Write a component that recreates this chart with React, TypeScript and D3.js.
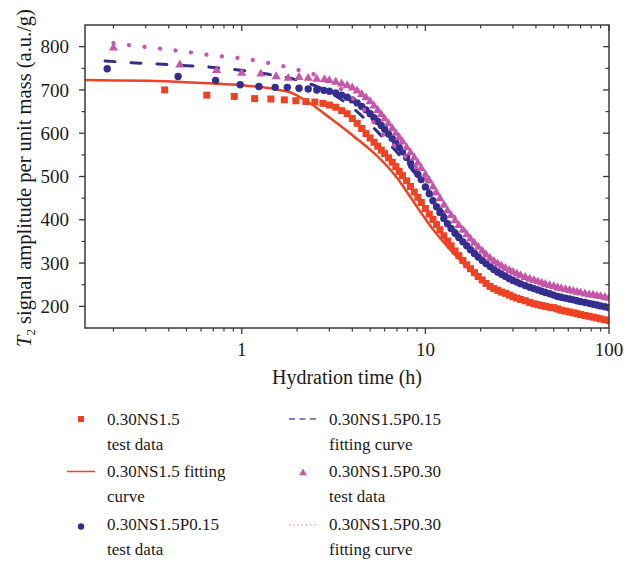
import React from "react";
import * as d3 from "d3";

// ---------- data ----------
const denseHours = [3.0, 3.25, 3.5, 3.75, 4.0, 4.25, 4.5, 4.75, 5.0, 5.25, 5.5, 5.75, 6.0, 6.3, 6.6, 6.9, 7.2, 7.5, 7.9, 8.3, 8.7, 9.1, 9.5, 10, 10.5, 11, 11.5, 12, 12.6, 13.2, 13.8, 14.5, 15.2, 16, 16.8, 17.6, 18.5, 19.4, 20.4, 21.4, 22.5, 23.6, 24.8, 26, 27.3, 28.7, 30, 31.5, 33, 35, 37, 39, 41, 43, 45, 47.5, 50, 52.5, 55, 58, 61, 64, 67, 70, 74, 78, 82, 86, 90, 95, 100];

const ns15Hours = [0.38, 0.645, 0.91, 1.175, 1.44, 1.705, 1.97, 2.235, 2.5, 2.765, ...denseHours];
const ns15Values = [700, 688, 685, 680, 679, 677, 675, 673, 672, 669,
  665, 660, 652, 645, 634, 623, 611, 599, 589, 579, 570, 561, 553, 543, 533, 523, 512, 502, 490, 477, 464, 452, 440, 426, 413, 401, 389, 377, 363, 351, 340, 328, 317, 306, 296, 287, 278, 269, 261, 253, 246, 241, 237, 233, 230, 226, 222, 219, 216, 213, 209, 206, 204, 202, 200, 198, 197, 194, 191, 189, 187, 185, 183, 181, 179, 177, 175, 173, 171, 169, 167];

const p015Hours = [0.185, 0.45, 0.72, 0.98, 1.24, 1.52, 1.77, 2.05, 2.3, 2.56, 2.8, ...denseHours];
const p015Values = [749, 731, 722, 712, 708, 706, 706, 704, 702, 700, 699,
  697, 693, 688, 683, 677, 670, 662, 654, 645, 636, 627, 618, 609, 598, 588, 578, 567, 557, 544, 531, 518, 505, 493, 476, 460, 444, 430, 417, 403, 391, 380, 369, 359, 349, 340, 331, 322, 314, 306, 299, 292, 285, 279, 274, 269, 264, 260, 256, 252, 248, 244, 241, 238, 235, 232, 229, 226, 223, 221, 219, 217, 215, 213, 211, 209, 207, 205, 203, 201, 199, 197];

const p030Hours = [0.2, 0.46, 0.73, 1.0, 1.27, 1.54, 1.79, 2.05, 2.3, 2.56, 2.82, ...denseHours];
const p030Values = [797, 758, 745, 739, 737, 731, 727, 729, 727, 725, 724,
  722, 718, 714, 710, 705, 698, 690, 682, 673, 663, 653, 643, 633, 622, 611, 600, 590, 580, 567, 555, 543, 531, 519, 504, 490, 476, 462, 449, 434, 421, 410, 398, 387, 376, 366, 356, 346, 337, 328, 319, 311, 304, 298, 293, 288, 283, 279, 275, 271, 267, 263, 260, 257, 254, 251, 248, 246, 243, 241, 239, 237, 235, 233, 231, 229, 227, 226, 224, 223, 221, 219];

const ns15FitHours = [0.14, 0.2, 0.3, 0.5, 0.7, 1.0, 1.3, 1.6, 1.85, 2.1, 2.4, 2.9, 3.5, 4.1, 5, 6, 7, 8, 9, 10, 11, 12, 14, 16, 20, 25, 30, 40, 50, 70, 100];
const ns15FitValues = [723, 722, 721, 718, 715, 711, 706, 700, 694, 682, 667, 641, 615, 592, 562, 530, 497, 462, 430, 402, 378, 358, 326, 300, 260, 234, 220, 202, 191, 178, 166];

const p015FitHours = [0.18, 0.25, 0.35, 0.5, 0.7, 1.0, 1.4, 2.0, 2.5, 3.0, 3.5, 4.0, 4.5, 5.0, 6.0, 7.0, 8.0, 9.0, 10, 12, 15, 20, 25, 30, 40, 50, 70, 100];
const p015FitValues = [767, 763, 760, 756, 752, 745, 736, 723, 710, 695, 677, 659, 640, 621, 586, 556, 528, 502, 478, 428, 368, 308, 280, 261, 240, 226, 211, 197];

const p030FitHours = [0.2, 0.25, 0.3, 0.4, 0.5, 0.6, 0.8, 1.0, 1.3, 1.6, 2.0, 2.5, 3.0, 3.5, 4.0, 4.7, 5.7, 7, 8, 10, 12, 15, 20, 25, 30, 40, 50, 70, 100];
const p030FitValues = [808, 803, 799, 793, 788, 783, 777, 773, 765, 757, 747, 735, 720, 701, 681, 651, 603, 565, 540, 495, 450, 396, 330, 299, 281, 259, 246, 231, 219];

const xMajorTicks = [1, 10, 100];
const xMinorTicks = [0.2, 0.3, 0.4, 0.5, 0.6, 0.7, 0.8, 0.9, 2, 3, 4, 5, 6, 7, 8, 9, 20, 30, 40, 50, 60, 70, 80, 90];
const yMajorTicks = [200, 300, 400, 500, 600, 700, 800];
const yMinorTicks = [250, 350, 450, 550, 650, 750];

const legendLabels = [
  ["0.30NS1.5", "test data"],
  ["0.30NS1.5 fitting", "curve"],
  ["0.30NS1.5P0.15", "test data"],
  ["0.30NS1.5P0.15", "fitting curve"],
  ["0.30NS1.5P0.30", "test data"],
  ["0.30NS1.5P0.30", "fitting curve"],
];

// ---------- style ----------
const RED = "#ee4224";
const BLUE = "#342f8e";
const PINK = "#c556a9";
const AXIS = "#3a3a3a";
const FONT = "'Liberation Serif', 'Times New Roman', serif";

const X0 = 85, X1 = 609, Y0 = 25, Y1 = 328;

export default function App() {
  const x = d3.scaleLog().domain([0.14, 100]).range([X0, X1]);
  const y = d3.scaleLinear().domain([150, 850]).range([Y1, Y0]);

  const line = (hs: number[], vs: number[]) =>
    d3.line<number>()
      .x((_, i) => x(hs[i]))
      .y((v) => y(v))
      .curve(d3.curveMonotoneX)(vs) || "";

  const tri = d3.symbol().type(d3.symbolTriangle).size(36)() || "";
  const triSmall = d3.symbol().type(d3.symbolTriangle).size(26)() || "";

  const legendX = [[81, 107], [303, 329]];
  const rowY = [425, 477, 530];

  return (
    <svg width={624} height={565} style={{ display: "block", position: "absolute", left: 0, top: 0 }} fontFamily={FONT}>
      <rect width={624} height={565} fill="#fff" />
      <defs>
        <clipPath id="plotclip">
          <rect x={X0} y={Y0} width={X1 - X0} height={Y1 - Y0} />
        </clipPath>
      </defs>

      <g clipPath="url(#plotclip)">
        {ns15Values.map((v, i) => (
          <rect key={"r" + i} x={x(ns15Hours[i]) - 3.5} y={y(v) - 3.5} width={7} height={7} fill={RED} />
        ))}
        <path d={line(ns15FitHours, ns15FitValues)} fill="none" stroke={RED} strokeWidth={2.5} />
        {p015Values.map((v, i) => (
          <circle key={"b" + i} cx={x(p015Hours[i])} cy={y(v)} r={3.7} fill={BLUE} />
        ))}
        <path d={line(p015FitHours, p015FitValues)} fill="none" stroke={BLUE} strokeWidth={3} strokeDasharray="10 16" strokeLinecap="round" />
        {p030Values.map((v, i) => (
          <path key={"p" + i} d={tri} transform={`translate(${x(p030Hours[i])},${y(v)})`} fill={PINK} />
        ))}
        <path d={line(p030FitHours, p030FitValues)} fill="none" stroke={PINK} strokeWidth={4.2} strokeDasharray="0.1 15.5" strokeLinecap="round" />
      </g>

      {/* frame */}
      <rect x={X0} y={Y0} width={X1 - X0} height={Y1 - Y0} fill="none" stroke={AXIS} strokeWidth={1.5} />

      {/* x ticks */}
      {xMajorTicks.map((t) => (
        <g key={"xm" + t}>
          <line x1={x(t)} x2={x(t)} y1={Y1} y2={Y1 + 6} stroke={AXIS} strokeWidth={1.3} />
          <line x1={x(t)} x2={x(t)} y1={Y0} y2={Y0 + 6} stroke={AXIS} strokeWidth={1.3} />
          <text x={x(t)} y={356} textAnchor="middle" fontSize={19} fill="#1a1a1a">{t}</text>
        </g>
      ))}
      {xMinorTicks.map((t) => (
        <g key={"xn" + t}>
          <line x1={x(t)} x2={x(t)} y1={Y1} y2={Y1 + 3.5} stroke={AXIS} strokeWidth={1.2} />
          <line x1={x(t)} x2={x(t)} y1={Y0} y2={Y0 + 3.5} stroke={AXIS} strokeWidth={1.2} />
        </g>
      ))}
      {/* y ticks */}
      {yMajorTicks.map((t) => (
        <g key={"ym" + t}>
          <line x1={X0 - 6} x2={X0} y1={y(t)} y2={y(t)} stroke={AXIS} strokeWidth={1.3} />
          <line x1={X1 - 6} x2={X1} y1={y(t)} y2={y(t)} stroke={AXIS} strokeWidth={1.3} />
          <text x={69} y={y(t)} dy="0.35em" textAnchor="end" fontSize={19} fill="#1a1a1a">{t}</text>
        </g>
      ))}
      {yMinorTicks.map((t) => (
        <g key={"yn" + t}>
          <line x1={X0 - 3.5} x2={X0} y1={y(t)} y2={y(t)} stroke={AXIS} strokeWidth={1.2} />
          <line x1={X1 - 3.5} x2={X1} y1={y(t)} y2={y(t)} stroke={AXIS} strokeWidth={1.2} />
        </g>
      ))}

      {/* axis titles */}
      <text x={(X0 + X1) / 2} y={384} textAnchor="middle" fontSize={20} fill="#1a1a1a">Hydration time (h)</text>
      <text transform={`translate(31,178) rotate(-90)`} textAnchor="middle" fontSize={20.5} fill="#1a1a1a">
        <tspan fontStyle="italic">T</tspan>
        <tspan fontSize={13} dy={4}>2</tspan>
        <tspan dy={-4}> signal amplitude per unit mass (a.u./g)</tspan>
      </text>

      {/* legend */}
      {legendLabels.map((lab, i) => {
        const col = i < 3 ? 0 : 1;
        const row = i % 3;
        const base = rowY[row];
        const tx = legendX[col][1];
        return (
          <text key={"lt" + i} x={tx} y={base} fontSize={17} fill="#1a1a1a">
            <tspan x={tx}>{lab[0]}</tspan>
            <tspan x={tx} dy={25}>{lab[1]}</tspan>
          </text>
        );
      })}
      <rect x={81 - 3} y={419 - 3} width={6} height={6} fill={RED} />
      <line x1={67} x2={95} y1={471.5} y2={471.5} stroke={RED} strokeWidth={1.5} />
      <circle cx={81} cy={526.5} r={3.2} fill={BLUE} />
      <line x1={289} x2={318} y1={419} y2={419} stroke="#5d57ad" strokeWidth={1.5} strokeDasharray="6 4.5" />
      <path d={triSmall} transform="translate(303,473)" fill={PINK} />
      <line x1={289} x2={318} y1={525} y2={525} stroke={PINK} strokeWidth={1.2} strokeDasharray="1.2 3" />
    </svg>
  );
}
